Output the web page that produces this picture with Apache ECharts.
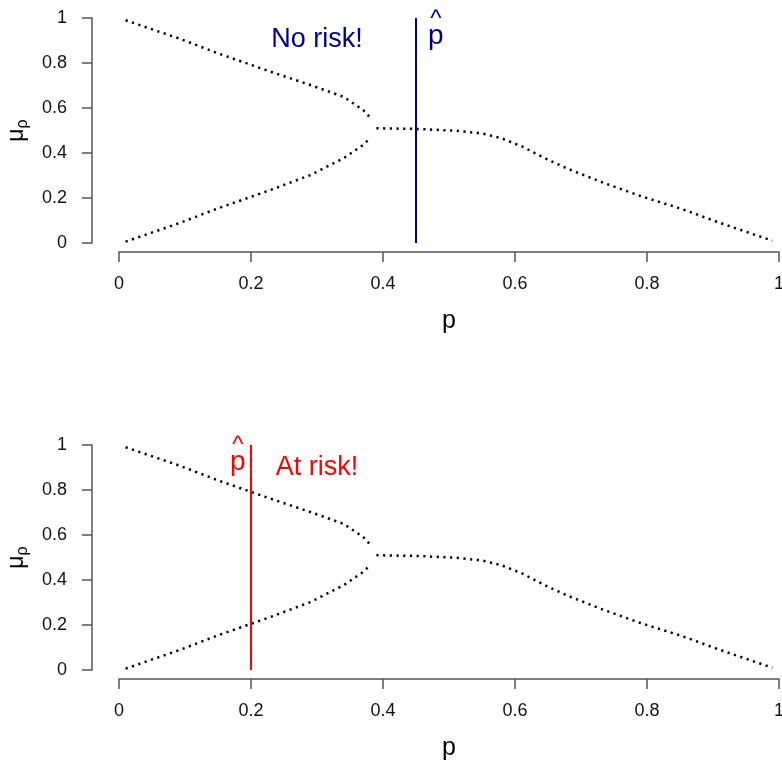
<!DOCTYPE html>
<html>
<head>
<meta charset="utf-8">
<script src="https://cdn.jsdelivr.net/npm/echarts@6/dist/echarts.min.js"></script>
<style>
  html, body { margin: 0; padding: 0; background: #fff; }
  #chart { width: 782px; height: 763px; }
</style>
</head>
<body>
<div id="chart"></div>
<script>
// curve values (same curve in both panels)
var upperP  = [0.01, 0.09, 0.15, 0.23, 0.29, 0.34, 0.37, 0.38];
var upperMu = [0.99, 0.91, 0.843, 0.761, 0.702, 0.65, 0.591, 0.559];
var lowerP  = [0.01, 0.09, 0.15, 0.23, 0.29, 0.34, 0.37, 0.38];
var lowerMu = [0.006, 0.087, 0.154, 0.236, 0.302, 0.376, 0.436, 0.465];
var tailP   = [0.39, 0.45, 0.51, 0.55, 0.58, 0.61, 0.65, 0.68, 0.73, 0.79, 0.85, 0.91, 0.99];
var tailMu  = [0.51, 0.507, 0.499, 0.487, 0.465, 0.43, 0.37, 0.33, 0.272, 0.209, 0.154, 0.09, 0.01];

var pHatTop = 0.45;
var pHatBottom = 0.2;
var tickLabels = ['0', '0.2', '0.4', '0.6', '0.8', '1'];

var FONT = 'Liberation Sans, Arial, sans-serif';
var AXIS_COL = '#555';

function zip(xs, ys) {
    return xs.map(function (x, i) { return [x, ys[i]]; });
}

function fmt(v) {
    var s = tickLabels[Math.round(v * 5)];
    return s === undefined ? '' : s;
}

function xAxisFor(idx) {
    return {
        type: 'value', gridIndex: idx, min: 0, max: 1, interval: 0.2,
        offset: 9,
        name: 'p', nameLocation: 'middle', nameGap: 57,
        nameTextStyle: { fontFamily: FONT, fontSize: 25, color: '#000' },
        axisLine: { show: true, onZero: false, lineStyle: { color: AXIS_COL, width: 1.5 } },
        axisTick: { show: true, length: 10, lineStyle: { color: AXIS_COL, width: 1.5 } },
        axisLabel: { margin: 23, fontFamily: FONT, fontSize: 18, color: '#111', formatter: fmt },
        splitLine: { show: false }
    };
}

function yAxisFor(idx) {
    return {
        type: 'value', gridIndex: idx, min: 0, max: 1, interval: 0.2,
        offset: 27,
        name: '{m|μ}{s|ρ}', nameLocation: 'middle', nameGap: 60, nameRotate: 90,
        nameTextStyle: {
            fontFamily: FONT, color: '#000',
            rich: {
                m: { fontFamily: FONT, fontSize: 23, color: '#000' },
                s: { fontFamily: FONT, fontSize: 16, color: '#000', padding: [12, 0, 0, 0] }
            }
        },
        axisLine: { show: true, onZero: false, lineStyle: { color: AXIS_COL, width: 1.5 } },
        axisTick: { show: true, length: 10, lineStyle: { color: AXIS_COL, width: 1.5 } },
        axisLabel: { margin: 25, fontFamily: FONT, fontSize: 18, color: '#111', formatter: fmt },
        splitLine: { show: false }
    };
}

function dotted(idx, data) {
    return {
        type: 'line', xAxisIndex: idx, yAxisIndex: idx, data: data,
        showSymbol: false, symbol: 'none', silent: true,
        lineStyle: { color: '#000', width: 2.5, type: [2.2, 4.5], cap: 'butt' }
    };
}

function textMark(idx, pos, text, color, rich) {
    return {
        type: 'scatter', xAxisIndex: idx, yAxisIndex: idx, data: [pos],
        symbolSize: 0, silent: true,
        itemStyle: { opacity: 1 },
        label: {
            show: true, position: 'inside', formatter: text, opacity: 1,
            textBorderWidth: 0,
            fontFamily: FONT, fontSize: 27, color: color, rich: rich || {}
        }
    };
}

function panelSeries(idx, pHat, color, noteText, notePos, hatPos) {
    var hatRich = {
        h: { fontFamily: FONT, fontSize: 24, color: color, lineHeight: 12, align: 'center', textBorderWidth: 0 },
        p: { fontFamily: FONT, fontSize: 28, color: color, lineHeight: 22, align: 'center', textBorderWidth: 0 }
    };
    return [
        dotted(idx, zip(upperP, upperMu)),
        dotted(idx, zip(lowerP, lowerMu)),
        dotted(idx, zip(tailP, tailMu)),
        {
            type: 'line', xAxisIndex: idx, yAxisIndex: idx,
            data: [[pHat, 0], [pHat, 1]],
            showSymbol: false, symbol: 'none', silent: true,
            lineStyle: { color: color, width: 2 }
        },
        textMark(idx, notePos, noteText, color),
        textMark(idx, hatPos, '{h|^}\n{p|p}', color, hatRich)
    ];
}

var chart = echarts.init(document.getElementById('chart'), null, { renderer: 'canvas' });

chart.setOption({
    animation: false,
    backgroundColor: '#fff',
    grid: [
        { left: 119, right: 3, top: 18, height: 225, outerBoundsMode: 'none', containLabel: false },
        { left: 119, right: 3, top: 445, height: 225, outerBoundsMode: 'none', containLabel: false }
    ],
    xAxis: [xAxisFor(0), xAxisFor(1)],
    yAxis: [yAxisFor(0), yAxisFor(1)],
    series: []
        .concat(panelSeries(0, pHatTop, '#00008B', 'No risk!', [0.30, 0.905], [0.48, 0.947]))
        .concat(panelSeries(1, pHatBottom, '#FF0000', 'At risk!', [0.30, 0.902], [0.18, 0.951]))
});
</script>
</body>
</html>
